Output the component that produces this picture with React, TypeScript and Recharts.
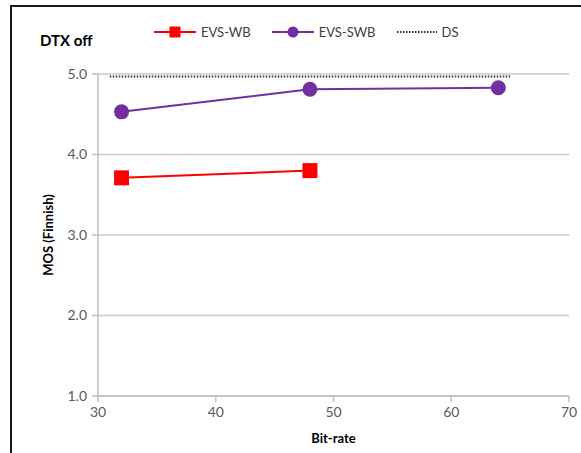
import { CartesianGrid, Legend, Line, LineChart, XAxis, YAxis } from 'recharts';

const wbRates = [32, 48];
const wbMos = [3.71, 3.8];
const swbRates = [32, 48, 64];
const swbMos = [4.53, 4.81, 4.83];
const dsRates = [31, 65];
const dsMos = [4.97, 4.97];
const xTicks = [30, 40, 50, 60, 70];
const yTicks = [1, 2, 3, 4, 5];

const wb = wbRates.map((x, i) => ({ x, mos: wbMos[i] }));
const swb = swbRates.map((x, i) => ({ x, mos: swbMos[i] }));
const ds = dsRates.map((x, i) => ({ x, mos: dsMos[i] }));

const RED = '#ff0000';
const PURPLE = '#7030a0';
const FONT = 'Lato, "Open Sans", sans-serif';

const Square = (props: any) => {
  const { cx, cy } = props;
  if (cx == null || cy == null) return null;
  return <rect x={cx - 7.5} y={cy - 7.5} width={15} height={15} fill={RED} />;
};

const Dot = (props: any) => {
  const { cx, cy } = props;
  if (cx == null || cy == null) return null;
  return <circle cx={cx} cy={cy} r={7.5} fill={PURPLE} />;
};

function LegendBox() {
  const items = [
    { name: 'EVS-WB', kind: 'sq' },
    { name: 'EVS-SWB', kind: 'ci' },
    { name: 'DS', kind: 'ds' },
  ];
  return (
    <div style={{ display: 'flex', gap: 21, fontFamily: FONT, fontSize: 13, color: '#404040' }}>
      {items.map((it) => (
        <div key={it.name} style={{ display: 'flex', alignItems: 'center', gap: 5 }}>
          <svg width={it.kind === 'ds' ? 40 : 42} height={16}>
            {it.kind === 'sq' && (
              <>
                <line x1={0} y1={8} x2={42} y2={8} stroke={RED} strokeWidth={2} />
                <rect x={15.5} y={2.5} width={11} height={11} fill={RED} />
              </>
            )}
            {it.kind === 'ci' && (
              <>
                <line x1={0} y1={8} x2={42} y2={8} stroke={PURPLE} strokeWidth={2} />
                <circle cx={21} cy={8} r={5.5} fill={PURPLE} />
              </>
            )}
            {it.kind === 'ds' && (
              <line x1={0} y1={8} x2={40} y2={8} stroke="#333" strokeWidth={2} strokeDasharray="1.5 1.5" />
            )}
          </svg>
          <span>{it.name}</span>
        </div>
      ))}
    </div>
  );
}

export default function App() {
  return (
    <div style={{ position: 'relative', width: 581, height: 453, background: '#fff', overflow: 'hidden' }}>
      <style>{'body{margin:0}'}</style>
      <div
        style={{
          position: 'absolute',
          left: 10,
          top: 5,
          width: 600,
          height: 500,
          borderLeft: '2px solid #1a1a1a',
          borderTop: '2px solid #1a1a1a',
        }}
      />
      <div
        style={{
          position: 'absolute',
          left: 40,
          top: 31,
          fontFamily: FONT,
          fontWeight: 700,
          fontSize: 15,
          color: '#000',
        }}
      >
        DTX off
      </div>
      <LineChart width={581} height={453} margin={{ top: 74, right: 12, bottom: 0, left: 0 }} style={{ position: 'absolute', left: 0, top: 0 }}>
        <CartesianGrid vertical={false} stroke="#c8c8c8" strokeWidth={1.5} />
        <XAxis
          type="number"
          dataKey="x"
          domain={[30, 70]}
          ticks={xTicks}
          height={57}
          tickSize={6}
          tickMargin={5}
          stroke="#bfbfbf"
          strokeWidth={1.5}
          tick={{ fill: '#595959', fontSize: 14, fontFamily: FONT }}
          label={{ value: 'Bit-rate', position: 'insideBottom', offset: 10, fill: '#000', fontSize: 13, fontWeight: 700, fontFamily: FONT }}
        />
        <YAxis
          type="number"
          dataKey="mos"
          domain={[1, 5]}
          ticks={yTicks}
          width={98}
          tickSize={6}
          tickMargin={5}
          stroke="#bfbfbf"
          strokeWidth={1.5}
          tickFormatter={(v: number) => v.toFixed(1)}
          tick={{ fill: '#595959', fontSize: 14, fontFamily: FONT }}
          label={{ value: 'MOS (Finnish)', angle: -90, position: 'insideLeft', offset: 48, textAnchor: 'middle', fill: '#000', fontSize: 13, fontWeight: 700, fontFamily: FONT }}
        />
        <Legend verticalAlign="middle" content={<LegendBox />} wrapperStyle={{ top: 24, left: 154, width: 'auto' }} />
        <Line data={ds} dataKey="mos" name="DS" stroke="#333" strokeWidth={2} strokeDasharray="1.5 1.5" dot={false} isAnimationActive={false} />
        <Line data={wb} dataKey="mos" name="EVS-WB" stroke={RED} strokeWidth={2} dot={<Square />} isAnimationActive={false} />
        <Line data={swb} dataKey="mos" name="EVS-SWB" stroke={PURPLE} strokeWidth={2} dot={<Dot />} isAnimationActive={false} />
      </LineChart>
    </div>
  );
}
